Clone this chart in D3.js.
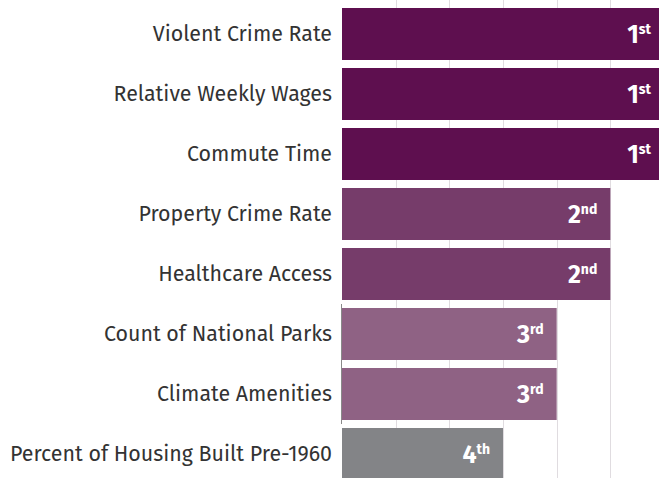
<!DOCTYPE html>
<html>
<head>
<meta charset="utf-8">
<script src="https://cdn.jsdelivr.net/npm/d3@7"></script>
<style>
  body { margin: 0; background: #fff; }
  svg { display: block; overflow: hidden; }
  .catLabel { font-family: "Fira Sans", "Open Sans", sans-serif; font-size: 21.4px; fill: #333; }
  .rankLabel { font-family: "Fira Sans", "Open Sans", sans-serif; font-weight: 700; fill: #fff; }
</style>
</head>
<body>
<svg id="visframe"></svg>
<script>
// categories top to bottom, with rank and bar length
var categories = [
    "Violent Crime Rate",
    "Relative Weekly Wages",
    "Commute Time",
    "Property Crime Rate",
    "Healthcare Access",
    "Count of National Parks",
    "Climate Amenities",
    "Percent of Housing Built Pre-1960"
];
var ranks = [1, 1, 1, 2, 2, 3, 3, 4];
var barValues = [6, 6, 6, 5, 5, 4, 4, 3];
var gridTicks = [1, 2, 3, 4, 5, 6];
var rankColors = ["#5e0f4f", "#763c6a", "#8f6284", "#838487"];
var suffixes = ["st", "nd", "rd", "th"];

var w = 659, h = 478;
var plotLeft = 342;

var svg = d3.select("#visframe")
    .attr("width", w)
    .attr("height", h);

var data = categories.map(function(c, i) {
    return { name: c, rank: ranks[i], value: barValues[i] };
});

var xScale = d3.scaleLinear()
    .domain([0, 6])
    .range([plotLeft, 664]);

var yScale = d3.scaleBand()
    .domain(categories)
    .range([8, 480])
    .paddingInner(8 / 60)
    .paddingOuter(0);

// light vertical gridlines behind the bars
svg.append("g")
    .selectAll("line")
    .data(gridTicks)
    .enter()
    .append("line")
    .attr("x1", function(d) { return Math.round(xScale(d)) + 0.5; })
    .attr("x2", function(d) { return Math.round(xScale(d)) + 0.5; })
    .attr("y1", 0)
    .attr("y2", h)
    .style("stroke", "#e0dce0")
    .style("stroke-width", 1);

// thin axis stub seen beside the 3rd-rank bars
var thirds = data.filter(function(d) { return d.rank == 3; });
svg.append("line")
    .attr("x1", plotLeft - 0.5)
    .attr("x2", plotLeft - 0.5)
    .attr("y1", yScale(thirds[0].name) - 4)
    .attr("y2", yScale(thirds[thirds.length - 1].name) + yScale.bandwidth() + 4)
    .style("stroke", "#8a8a8a")
    .style("stroke-width", 1);

var rows = svg.selectAll(".row")
    .data(data)
    .enter()
    .append("g")
    .attr("class", "row");

rows.append("rect")
    .attr("x", xScale(0))
    .attr("y", function(d) { return yScale(d.name); })
    .attr("width", function(d) { return xScale(d.value) - xScale(0); })
    .attr("height", yScale.bandwidth())
    .style("fill", function(d) { return rankColors[d.rank - 1]; });

rows.append("text")
    .attr("class", "catLabel")
    .attr("x", plotLeft - 10)
    .attr("y", function(d) { return yScale(d.name) + yScale.bandwidth() / 2; })
    .attr("dy", "0.34em")
    .attr("text-anchor", "end")
    .text(function(d) { return d.name; });

var rankText = rows.append("text")
    .attr("class", "rankLabel")
    .attr("x", function(d) { return xScale(d.value) - 13; })
    .attr("y", function(d) { return yScale(d.name) + yScale.bandwidth() / 2 + 9; })
    .attr("text-anchor", "end");

rankText.append("tspan")
    .style("font-size", "25px")
    .text(function(d) { return d.rank; });

rankText.append("tspan")
    .style("font-size", "14px")
    .attr("dy", -9)
    .text(function(d) { return suffixes[d.rank - 1]; });
</script>
</body>
</html>
